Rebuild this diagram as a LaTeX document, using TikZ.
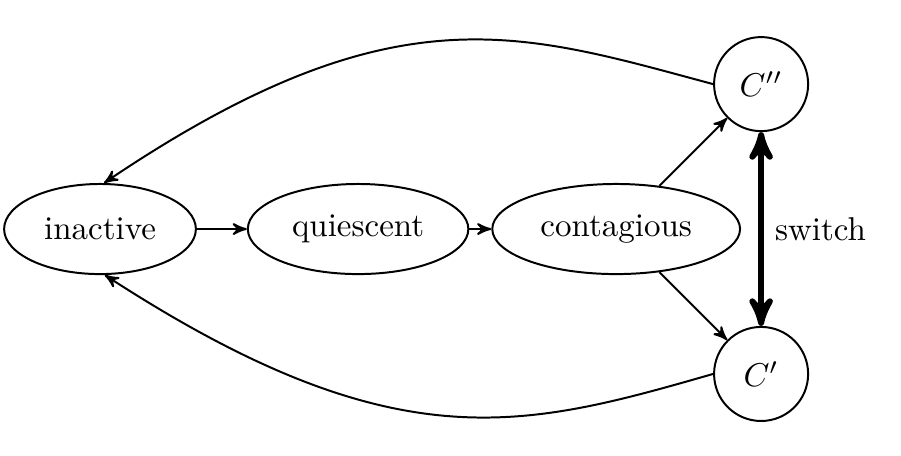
\documentclass[tikz,border=0pt]{standalone}
\usetikzlibrary{positioning,shapes.geometric,arrows}
\begin{document}
\begin{tikzpicture}[semithick,>=stealth',node distance=78.2pt,
        state/.style={ellipse,draw,inner sep=3.6pt,minimum height=27.3pt},
        role/.style={circle,draw,minimum size=28.5pt}]
            \useasboundingbox (-30.3pt,-68.5pt) rectangle (242.7pt,69.4pt);
            \node[state] (ina) {inactive};
            \node[state,right of=ina] (qui) {quiescent};
            \node[state,right of=qui] (con) {contagious};
            \node[role,above right of=con,node distance=62.1pt] (cpp) {$C''$};
            \node[role,below right of=con,node distance=62.1pt] (cp) {$C'$};
            \path[draw,->] (ina) -- (qui);
            \path[draw,->] (qui) -- (con);
            \path[draw,->] (con) -- (cpp);
            \path[draw,->] (con) -- (cp);
            \path[draw,<->,line width=1.8pt] (cpp) -- node[right] {switch} (cp);
            \path[draw,->] (cpp.west) to[out=165,in=34,out looseness=0.83,in looseness=1.45] (ina.85);
            \path[draw,->] (cp.west) to[out=196,in=-33,out looseness=0.82,in looseness=1.44] (ina.-84);
        \end{tikzpicture}
\end{document}
